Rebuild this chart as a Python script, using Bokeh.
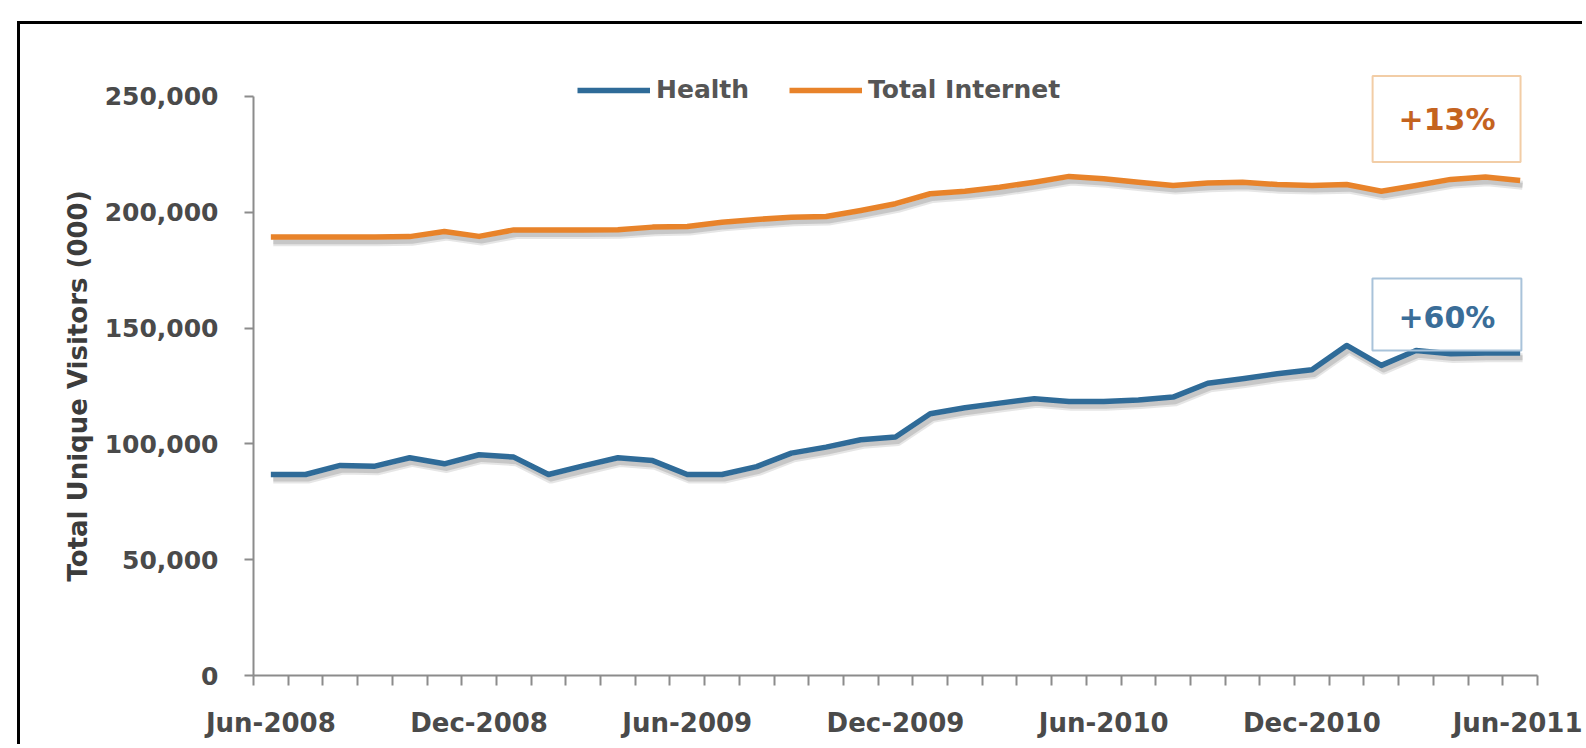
from bokeh.plotting import figure
from bokeh.models import (Range1d, FixedTicker, NumeralTickFormatter, Legend,
                          LegendItem, Label, Title)
from bokeh.embed import file_html
from bokeh.resources import INLINE

# Monthly unique visitors, in thousands
months = [
    "Jun-2008", "Jul-2008", "Aug-2008", "Sep-2008", "Oct-2008", "Nov-2008",
    "Dec-2008", "Jan-2009", "Feb-2009", "Mar-2009", "Apr-2009", "May-2009",
    "Jun-2009", "Jul-2009", "Aug-2009", "Sep-2009", "Oct-2009", "Nov-2009",
    "Dec-2009", "Jan-2010", "Feb-2010", "Mar-2010", "Apr-2010", "May-2010",
    "Jun-2010", "Jul-2010", "Aug-2010", "Sep-2010", "Oct-2010", "Nov-2010",
    "Dec-2010", "Jan-2011", "Feb-2011", "Mar-2011", "Apr-2011", "May-2011",
    "Jun-2011",
]
health = [
    86800, 86800, 90700, 90400, 94000, 91400, 95300, 94300, 86800, 90500,
    94000, 92800, 86800, 86800, 90200, 96000, 98600, 101800, 103000, 113000,
    115600, 117600, 119500, 118300, 118300, 119000, 120200, 126200, 128100,
    130300, 132000, 142500, 133900, 140300, 138900, 139200, 139200,
]
total_internet = [
    189300, 189300, 189300, 189300, 189500, 191700, 189600, 192400, 192400,
    192400, 192500, 193600, 193900, 195700, 196900, 197900, 198200, 200800,
    203700, 208000, 209100, 210800, 213000, 215500, 214500, 213000, 211600,
    212600, 213000, 212000, 211600, 212000, 209100, 211600, 214200, 215200,
    213700,
]
y_ticks = [0, 50000, 100000, 150000, 200000, 250000]
label_step = 6

FONT = "DejaVu Sans"
BLUE = "#2f6b98"
ORANGE = "#e8832a"
TICK_TEXT = "#4a4a4a"
TITLE_TEXT = "#3c3c3c"
AXIS_GRAY = "#8c8c8c"

n = len(months)
idx = list(range(n))

# headroom above the top tick for the legend and the upper callout
y_top = 272450

p = figure(width=1565, height=723, output_backend="svg", toolbar_location=None,
           x_range=Range1d(-0.5, n - 0.5), y_range=Range1d(y_ticks[0], y_top),
           min_border_left=233, min_border_right=48, min_border_top=20,
           min_border_bottom=72, background_fill_color="white",
           border_fill_color="white", outline_line_color=None)
p.styles = {"border-left": "3px solid #000", "border-top": "3px solid #000",
            "margin-left": "17px", "margin-top": "21px"}
p.grid.visible = False

# soft drop shadow: same series drawn on slightly shifted ranges
sdx, sdy = 0.07, 2000
p.extra_x_ranges = {"shadow_x": Range1d(-0.5 - sdx, n - 0.5 - sdx)}
p.extra_y_ranges = {"shadow_y": Range1d(y_ticks[0] + sdy, y_top + sdy)}
for series in (health, total_internet):
    p.line(idx, series, x_range_name="shadow_x", y_range_name="shadow_y",
           line_color="#808080", line_alpha=0.2, line_width=9, line_join="round")
    p.line(idx, series, x_range_name="shadow_x", y_range_name="shadow_y",
           line_color="#808080", line_alpha=0.3, line_width=5, line_join="round")

r_health = p.line(idx, health, line_color=BLUE, line_width=5.5, line_join="round")
r_total = p.line(idx, total_internet, line_color=ORANGE, line_width=5.5, line_join="round")

# x axis: ticks between months, labels every six months
xax = p.xaxis[0]
xax.ticker = FixedTicker(ticks=idx[::label_step],
                         minor_ticks=[i - 0.5 for i in range(n + 1)])
xax.major_label_overrides = {i: months[i] for i in idx[::label_step]}
xax.major_tick_line_color = None
xax.major_tick_out = 10
xax.major_tick_in = 0
xax.minor_tick_out = 10
xax.minor_tick_in = 0
xax.minor_tick_line_color = AXIS_GRAY
xax.minor_tick_line_width = 2
xax.axis_line_color = AXIS_GRAY
xax.axis_line_width = 2
xax.major_label_text_font = FONT
xax.major_label_text_font_style = "bold"
xax.major_label_text_font_size = "26px"
xax.major_label_text_color = TICK_TEXT
xax.major_label_standoff = 22

yax = p.yaxis[0]
yax.ticker = FixedTicker(ticks=y_ticks)
yax.bounds = (y_ticks[0], y_ticks[-1])
yax.formatter = NumeralTickFormatter(format="0,0")
yax.major_tick_out = 9
yax.major_tick_in = 0
yax.minor_tick_line_color = None
yax.major_tick_line_color = AXIS_GRAY
yax.major_tick_line_width = 2
yax.axis_line_color = AXIS_GRAY
yax.axis_line_width = 2
yax.major_label_text_font = FONT
yax.major_label_text_font_style = "bold"
yax.major_label_text_font_size = "25px"
yax.major_label_text_color = TICK_TEXT
yax.major_label_standoff = 26

# vertical axis title, placed along the tick span rather than the whole frame
p.add_layout(Title(text="Total Unique Visitors (000)", align="left", offset=94,
                   text_font=FONT, text_font_style="bold", text_font_size="26px",
                   text_color=TITLE_TEXT, standoff=17), "left")

legend = Legend(items=[LegendItem(label="Health", renderers=[r_health]),
                       LegendItem(label="Total Internet", renderers=[r_total])],
                orientation="horizontal", location=(324, 571),
                border_line_color=None, background_fill_alpha=0,
                padding=0, margin=0, spacing=40, label_standoff=6,
                glyph_width=73, glyph_height=20,
                label_text_font=FONT, label_text_font_style="bold",
                label_text_font_size="25px", label_text_color="#555555")
p.add_layout(legend)

# growth callouts, computed from first and last month
growth_total = round((total_internet[-1] / total_internet[0] - 1) * 100)
growth_health = round((health[-1] / health[0] - 1) * 100)

# padding order: left, right, top, bottom
p.add_layout(Label(x=33.88, y=240300, text=f"+{growth_total}%",
                   text_align="center", text_baseline="middle",
                   text_font=FONT, text_font_style="bold", text_font_size="30px",
                   text_color="#c4631f", border_line_color="#f2cda6",
                   border_line_width=2, padding=(26, 25, 26, 25)))
p.add_layout(Label(x=33.89, y=155880, text=f"+{growth_health}%",
                   text_align="center", text_baseline="middle",
                   text_font=FONT, text_font_style="bold", text_font_size="30px",
                   text_color="#3a6d98", border_line_color="#a9c3da",
                   border_line_width=2, padding=(26, 26, 22, 15)))

open("out.html", "w").write(file_html(p, INLINE))
